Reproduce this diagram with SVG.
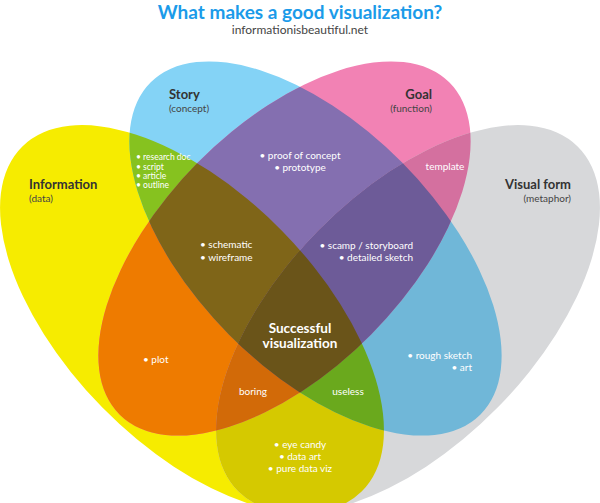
<svg xmlns="http://www.w3.org/2000/svg" xmlns:xlink="http://www.w3.org/1999/xlink" width="600" height="503" viewBox="0 0 600 503">
<style>
.t{font-family:Lato,"Liberation Sans",sans-serif}
.title{font-weight:bold;font-size:19px;fill:#1b9be9}
.sub{font-size:12px;fill:#444}
.lab{font-weight:bold;font-size:13px;fill:#333}
.sl{font-size:10px;fill:#444}
.w{font-size:10px;fill:#fff}
.ws{font-size:8.5px;fill:#fff}
.big{font-weight:bold;font-size:13.5px;fill:#fff}
</style>
<defs>
<ellipse id="eY" cx="192" cy="319" rx="242" ry="126" transform="rotate(45.5 192 319)"/>
<ellipse id="eB" cx="315.5" cy="248.5" rx="234" ry="122" transform="rotate(45.25 315.5 248.5)"/>
<ellipse id="eP" cx="284.5" cy="248.5" rx="234" ry="122" transform="rotate(-45.25 284.5 248.5)"/>
<ellipse id="eG" cx="408" cy="319" rx="242" ry="126" transform="rotate(-45.5 408 319)"/>
<clipPath id="cY"><ellipse cx="192" cy="319" rx="242" ry="126" transform="rotate(45.5 192 319)"/></clipPath>
<clipPath id="cB"><ellipse cx="315.5" cy="248.5" rx="234" ry="122" transform="rotate(45.25 315.5 248.5)"/></clipPath>
<clipPath id="cP"><ellipse cx="284.5" cy="248.5" rx="234" ry="122" transform="rotate(-45.25 284.5 248.5)"/></clipPath>
<clipPath id="cG"><ellipse cx="408" cy="319" rx="242" ry="126" transform="rotate(-45.5 408 319)"/></clipPath>
</defs>
<rect width="600" height="503" fill="#fff"/>
<g id="sets">
<use href="#eY" fill="#f6ec00"/>
<use href="#eB" fill="#84d3f6"/>
<use href="#eP" fill="#f282b4"/>
<use href="#eG" fill="#d7d8da"/>
</g>
<g id="pairs">
<g clip-path="url(#cY)"><use href="#eB" fill="#86c21f"/></g>
<g clip-path="url(#cY)"><use href="#eP" fill="#ee7b00"/></g>
<g clip-path="url(#cY)"><use href="#eG" fill="#d5c900"/></g>
<g clip-path="url(#cB)"><use href="#eP" fill="#846fb0"/></g>
<g clip-path="url(#cB)"><use href="#eG" fill="#70b7d8"/></g>
<g clip-path="url(#cP)"><use href="#eG" fill="#d4709f"/></g>
</g>
<g id="triples">
<g clip-path="url(#cY)"><g clip-path="url(#cB)"><use href="#eP" fill="#7f6518"/></g></g>
<g clip-path="url(#cY)"><g clip-path="url(#cB)"><use href="#eG" fill="#6aa91d"/></g></g>
<g clip-path="url(#cY)"><g clip-path="url(#cP)"><use href="#eG" fill="#d26a08"/></g></g>
<g clip-path="url(#cB)"><g clip-path="url(#cP)"><use href="#eG" fill="#6d5b98"/></g></g>
</g>
<g id="quad">
<g clip-path="url(#cY)"><g clip-path="url(#cB)"><g clip-path="url(#cP)"><use href="#eG" fill="#6a5419"/></g></g></g>
</g>
<g id="header">
<text class="t title" x="300" y="18.5" text-anchor="middle">What makes a good visualization?</text>
<text class="t sub" x="300" y="34" text-anchor="middle">informationisbeautiful.net</text>
</g>
<g id="information">
<text class="t lab" x="29" y="189">Information</text>
<text class="t sl" x="29" y="202">(data)</text>
</g>
<g id="story">
<text class="t lab" x="169" y="99">Story</text>
<text class="t sl" x="169" y="112">(concept)</text>
</g>
<g id="goal">
<text class="t lab" x="432" y="99" text-anchor="end">Goal</text>
<text class="t sl" x="432" y="112" text-anchor="end">(function)</text>
</g>
<g id="visual-form">
<text class="t lab" x="571" y="189" text-anchor="end">Visual form</text>
<text class="t sl" x="571" y="202" text-anchor="end">(metaphor)</text>
</g>
<g id="region-labels">
<text class="t ws" x="136" y="160">• research doc</text>
<text class="t ws" x="136" y="169.5">• script</text>
<text class="t ws" x="136" y="178.5">• article</text>
<text class="t ws" x="136" y="188">• outline</text>
<text class="t w" x="300" y="159" text-anchor="middle">• proof of concept</text>
<text class="t w" x="300" y="171" text-anchor="middle">• prototype</text>
<text class="t w" x="445" y="170" text-anchor="middle">template</text>
<text class="t w" x="200" y="248">• schematic</text>
<text class="t w" x="200" y="261">• wireframe</text>
<text class="t w" x="413" y="249" text-anchor="end">• scamp / storyboard</text>
<text class="t w" x="413" y="261" text-anchor="end">• detailed sketch</text>
<text class="t big" x="300" y="333" text-anchor="middle">Successful</text>
<text class="t big" x="300" y="348" text-anchor="middle">visualization</text>
<text class="t w" x="143" y="363">• plot</text>
<text class="t w" x="253" y="395" text-anchor="middle">boring</text>
<text class="t w" x="348" y="395" text-anchor="middle">useless</text>
<text class="t w" x="472" y="359" text-anchor="end">• rough sketch</text>
<text class="t w" x="472" y="371" text-anchor="end">• art</text>
<text class="t w" x="300" y="448" text-anchor="middle">• eye candy</text>
<text class="t w" x="300" y="460" text-anchor="middle">• data art</text>
<text class="t w" x="300" y="472" text-anchor="middle">• pure data viz</text>
</g>
</svg>
